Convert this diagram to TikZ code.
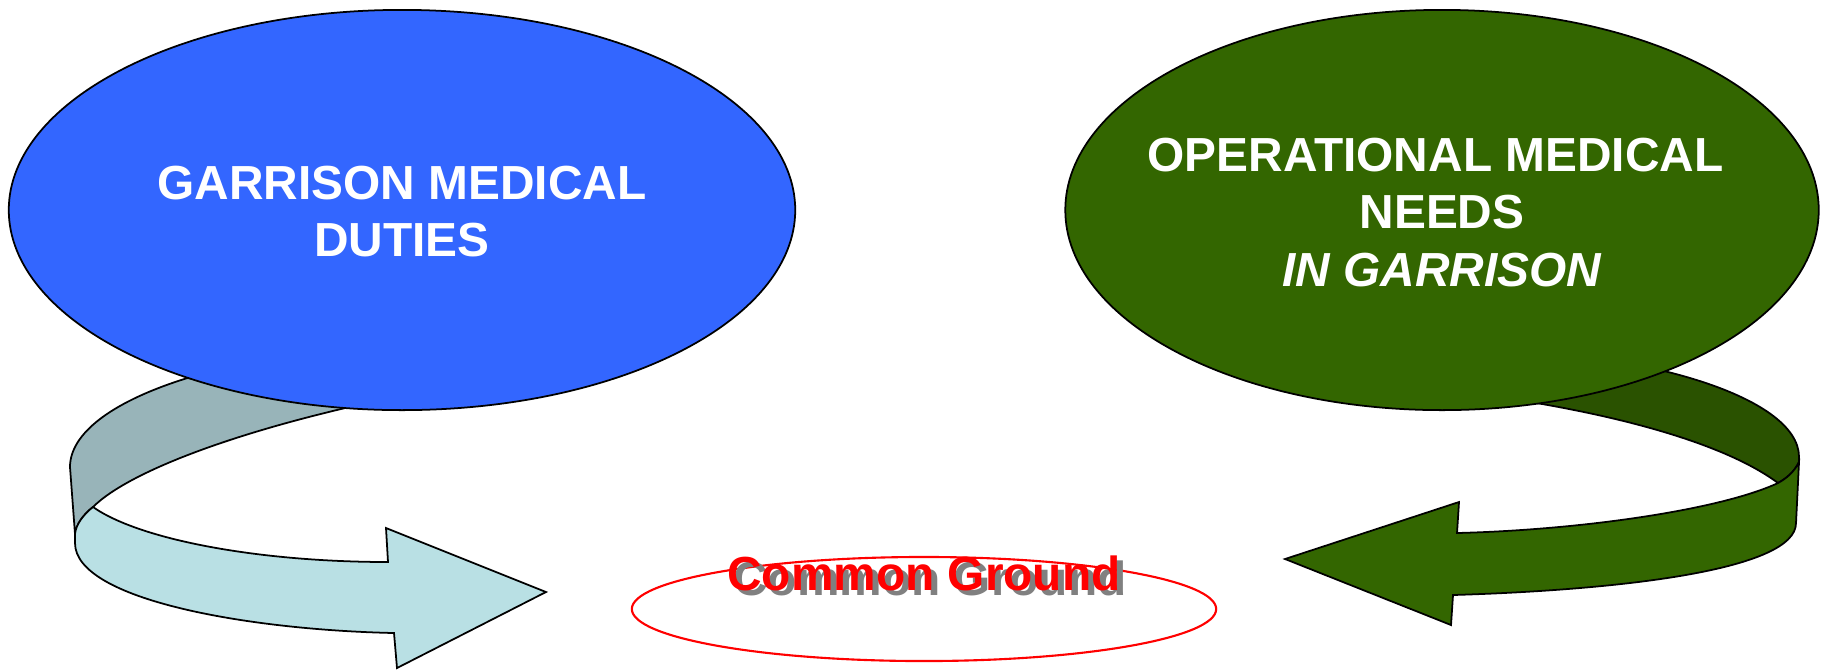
\documentclass[tikz,border=0pt]{standalone}
\usepackage{fontspec}
\setmainfont{Liberation Sans}
\usepackage{tikz}
\usetikzlibrary{positioning,shapes,arrows}
\definecolor{ovalblue}{HTML}{3366FF}
\definecolor{ovalgreen}{HTML}{336600}
\definecolor{bandgreen}{HTML}{2A5200}
\definecolor{bandgrey}{HTML}{98B4B9}
\definecolor{bandcyan}{HTML}{B9E0E4}
\definecolor{shadowgrey}{HTML}{808080}
\tikzstyle{oval} = [ellipse, draw=black, line width=0.5pt, inner sep=0pt, minimum height=4cm]
\tikzstyle{title} = [anchor=base, inner sep=0pt, text=white, font=\fontsize{13.6}{16.3}\selectfont\bfseries]
\tikzstyle{band} = [draw=black, line width=0.5pt, line join=miter]

\begin{document}
\begin{tikzpicture}[x=0.01cm, y=-0.01cm]
        \useasboundingbox (0,0) rectangle (1822,669);

        % Back parts of the turning arrows
        \path [band, fill=bandgrey] (440,345) .. controls (236,345) and (70,400) .. (70,467)
            -- (75,534) .. controls (76,524) and (84,514) .. (93,507)
            .. controls (130,470) and (250,425) .. (420,392) -- cycle;
        \path [band, fill=bandgreen] (1440,347) .. controls (1638,347) and (1799,396) .. (1799,457)
            -- (1799,462) .. controls (1794,472) and (1787,478) .. (1778,483)
            .. controls (1720,440) and (1600,410) .. (1470,393) -- cycle;

        % Front parts with heads
        \path [band, fill=bandcyan] (75,534) -- (75,543) .. controls (75,600) and (250,630) .. (394,633)
            -- (397,668) -- (546,592) -- (386,528) -- (388,562)
            .. controls (260,562) and (140,540) .. (93,507)
            .. controls (84,514) and (76,524) .. (75,534) -- cycle;
        \path [band, fill=ovalgreen] (1799,462) -- (1796,523) .. controls (1796,570) and (1620,590) .. (1453,595)
            -- (1451,625) -- (1285,559) -- (1459,502) -- (1457,533)
            .. controls (1580,530) and (1720,510) .. (1778,483)
            .. controls (1787,478) and (1794,472) .. (1799,462) -- cycle;

        % Place nodes
        \node at (402, 210) [oval, fill=ovalblue, minimum width=7.86cm] (garrison) {};
        \node at (1442, 210) [oval, fill=ovalgreen, minimum width=7.53cm] (operational) {};
        \node at (924, 609) [oval, draw=red, fill=white, line width=0.6pt, minimum width=5.84cm, minimum height=1.04cm] (common) {};

        \node at (402, 199.3) [title] (garr1) {GARRISON MEDICAL};
        \node at (402, 256.7) [title] (garr2) {DUTIES};
        \node at (1435.5, 171) [title] (oper1) {OPERATIONAL MEDICAL};
        \node at (1442, 228.3) [title] (oper2) {NEEDS};
        \node at (1442, 286) [title, font=\fontsize{13.6}{16.3}\selectfont\bfseries\itshape] (oper3) {IN GARRISON};

        \node at (930, 595) [title, text=shadowgrey] (cgshadow) {Common Ground};
        \node at (924, 590) [title, text=red] (cg) {Common Ground};
    \end{tikzpicture}
\end{document}
